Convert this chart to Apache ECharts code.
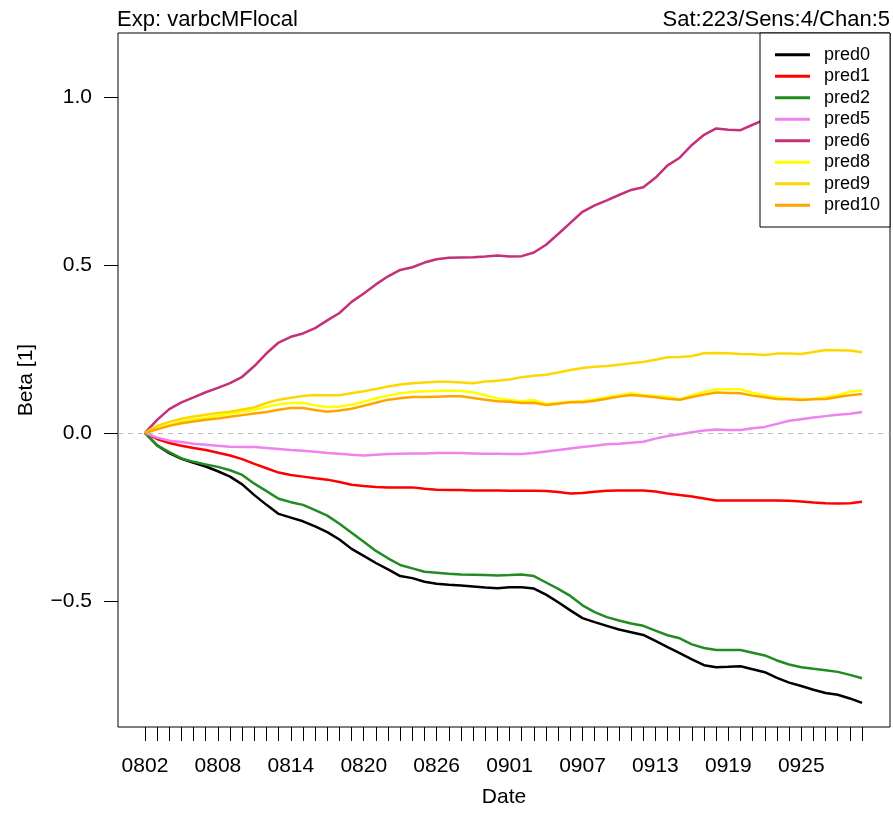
<!DOCTYPE html>
<html>
<head>
<meta charset="utf-8">
<script src="https://cdn.jsdelivr.net/npm/echarts@6/dist/echarts.min.js"></script>
<style>
html, body { margin: 0; padding: 0; background: #fff; }
#chart { width: 893px; height: 830px; }
</style>
</head>
<body>
<div id="chart"></div>
<script>
// daily dates, 0802 .. 0930
const dates = [
    '0802','0803','0804','0805','0806','0807','0808','0809','0810','0811',
    '0812','0813','0814','0815','0816','0817','0818','0819','0820','0821',
    '0822','0823','0824','0825','0826','0827','0828','0829','0830','0831',
    '0901','0902','0903','0904','0905','0906','0907','0908','0909','0910',
    '0911','0912','0913','0914','0915','0916','0917','0918','0919','0920',
    '0921','0922','0923','0924','0925','0926','0927','0928','0929','0930'
];
const xLabelIdx = [0, 6, 12, 18, 24, 30, 36, 42, 48, 54];
const yTicks = [-0.5, 0, 0.5, 1.0];

const pred0 = [0, -0.037, -0.060, -0.077, -0.089, -0.100, -0.114, -0.130, -0.153, -0.185,
    -0.214, -0.241, -0.252, -0.263, -0.278, -0.295, -0.317, -0.345, -0.366, -0.387,
    -0.406, -0.426, -0.432, -0.443, -0.449, -0.452, -0.454, -0.457, -0.460, -0.462,
    -0.459, -0.459, -0.463, -0.481, -0.504, -0.528, -0.551, -0.563, -0.574, -0.585,
    -0.593, -0.601, -0.619, -0.637, -0.655, -0.674, -0.691, -0.697, -0.696, -0.694,
    -0.703, -0.712, -0.729, -0.743, -0.753, -0.764, -0.774, -0.779, -0.790, -0.803];
const pred1 = [0, -0.018, -0.030, -0.038, -0.045, -0.051, -0.059, -0.067, -0.078, -0.092,
    -0.105, -0.118, -0.125, -0.130, -0.135, -0.139, -0.146, -0.154, -0.158, -0.161,
    -0.162, -0.162, -0.162, -0.166, -0.169, -0.170, -0.170, -0.171, -0.171, -0.171,
    -0.172, -0.172, -0.172, -0.173, -0.176, -0.180, -0.179, -0.175, -0.172, -0.171,
    -0.171, -0.171, -0.174, -0.180, -0.185, -0.189, -0.195, -0.201, -0.201, -0.201,
    -0.201, -0.201, -0.201, -0.202, -0.204, -0.207, -0.209, -0.210, -0.209, -0.205];
const pred2 = [0, -0.037, -0.057, -0.076, -0.086, -0.094, -0.101, -0.111, -0.125, -0.151,
    -0.173, -0.196, -0.206, -0.214, -0.230, -0.246, -0.270, -0.297, -0.324, -0.351,
    -0.373, -0.393, -0.403, -0.413, -0.416, -0.419, -0.421, -0.422, -0.423, -0.424,
    -0.423, -0.421, -0.426, -0.445, -0.464, -0.485, -0.513, -0.533, -0.548, -0.558,
    -0.567, -0.574, -0.588, -0.602, -0.611, -0.629, -0.640, -0.646, -0.646, -0.646,
    -0.654, -0.662, -0.677, -0.689, -0.697, -0.702, -0.706, -0.711, -0.720, -0.730];
const pred5 = [0, -0.014, -0.023, -0.027, -0.032, -0.035, -0.038, -0.041, -0.042, -0.042,
    -0.045, -0.048, -0.051, -0.053, -0.056, -0.060, -0.062, -0.065, -0.067, -0.065,
    -0.063, -0.062, -0.061, -0.061, -0.060, -0.060, -0.060, -0.061, -0.062, -0.062,
    -0.063, -0.063, -0.060, -0.055, -0.051, -0.046, -0.042, -0.038, -0.034, -0.032,
    -0.029, -0.026, -0.017, -0.009, -0.004, 0.002, 0.007, 0.010, 0.009, 0.009,
    0.014, 0.018, 0.027, 0.036, 0.041, 0.046, 0.050, 0.054, 0.057, 0.062];
const pred6 = [0, 0.039, 0.071, 0.091, 0.106, 0.121, 0.134, 0.148, 0.167, 0.199,
    0.237, 0.269, 0.286, 0.296, 0.312, 0.335, 0.357, 0.390, 0.415, 0.442,
    0.466, 0.485, 0.493, 0.507, 0.517, 0.521, 0.522, 0.523, 0.525, 0.528,
    0.525, 0.526, 0.537, 0.560, 0.592, 0.625, 0.658, 0.677, 0.692, 0.708,
    0.723, 0.731, 0.759, 0.796, 0.819, 0.857, 0.887, 0.906, 0.902, 0.901,
    0.917, 0.932, 0.940, 0.948, 0.955, 0.962, 0.970, 0.978, 0.985, 0.993];
const pred8 = [0, 0.013, 0.024, 0.034, 0.040, 0.045, 0.051, 0.057, 0.063, 0.069,
    0.078, 0.085, 0.089, 0.090, 0.082, 0.077, 0.079, 0.084, 0.093, 0.103,
    0.111, 0.118, 0.122, 0.124, 0.125, 0.126, 0.125, 0.121, 0.112, 0.103,
    0.098, 0.094, 0.098, 0.086, 0.090, 0.093, 0.095, 0.100, 0.106, 0.112,
    0.118, 0.113, 0.110, 0.108, 0.100, 0.112, 0.122, 0.130, 0.130, 0.130,
    0.119, 0.112, 0.106, 0.103, 0.101, 0.102, 0.106, 0.112, 0.123, 0.126];
const pred9 = [0, 0.021, 0.033, 0.042, 0.049, 0.054, 0.059, 0.063, 0.070, 0.076,
    0.089, 0.099, 0.105, 0.110, 0.113, 0.112, 0.112, 0.118, 0.124, 0.131,
    0.138, 0.144, 0.148, 0.150, 0.152, 0.152, 0.150, 0.148, 0.153, 0.155,
    0.159, 0.166, 0.170, 0.173, 0.180, 0.187, 0.193, 0.197, 0.199, 0.203,
    0.207, 0.211, 0.218, 0.225, 0.226, 0.229, 0.237, 0.238, 0.237, 0.235,
    0.234, 0.232, 0.236, 0.236, 0.235, 0.241, 0.247, 0.246, 0.245, 0.240];
const pred10 = [0, 0.011, 0.021, 0.029, 0.034, 0.039, 0.043, 0.048, 0.053, 0.058,
    0.062, 0.069, 0.074, 0.074, 0.068, 0.063, 0.067, 0.072, 0.081, 0.090,
    0.099, 0.103, 0.107, 0.107, 0.108, 0.109, 0.109, 0.104, 0.099, 0.094,
    0.093, 0.089, 0.090, 0.083, 0.087, 0.091, 0.091, 0.096, 0.102, 0.108,
    0.113, 0.110, 0.106, 0.102, 0.099, 0.107, 0.114, 0.120, 0.119, 0.118,
    0.111, 0.106, 0.101, 0.100, 0.098, 0.100, 0.101, 0.107, 0.112, 0.116];

const seriesNames = ['pred0', 'pred1', 'pred2', 'pred5', 'pred6', 'pred8', 'pred9', 'pred10'];
const seriesValues = [pred0, pred1, pred2, pred5, pred6, pred8, pred9, pred10];
const seriesColors = ['#000000', '#FF0000', '#228B22', '#EE82EE', '#C4317A', '#FFFF00', '#FFD700', '#FFA500'];

const font = 'Liberation Sans, Arial, Helvetica, sans-serif';

let series = seriesNames.map((name, k) => ({
    name: name,
    type: 'line',
    symbol: 'none',
    color: seriesColors[k],
    lineStyle: {width: 2.5, color: seriesColors[k]},
    data: seriesValues[k].map((v, i) => [i, v])
}));
// dashed zero line
series[0].markLine = {
    silent: true,
    symbol: 'none',
    label: {show: false},
    lineStyle: {color: '#BEBEBE', type: [5, 5], width: 1},
    data: [{yAxis: 0}]
};

let option = {
    backgroundColor: '#fff',
    animation: false,
    textStyle: {fontFamily: font},
    title: [
        {text: 'Exp: varbcMFlocal', left: 117, top: 9, padding: 0,
            textStyle: {fontFamily: font, fontSize: 22, fontWeight: 'normal', color: '#000'}},
        {text: 'Sat:223/Sens:4/Chan:5', right: 3, top: 9, padding: 0,
            textStyle: {fontFamily: font, fontSize: 22, fontWeight: 'normal', color: '#000'}}
    ],
    legend: {
        data: seriesNames,
        z: 50,
        orient: 'vertical',
        left: 760,
        top: 33,
        padding: [11, 10, 11, 15],
        icon: 'rect',
        itemWidth: 35,
        itemHeight: 3,
        itemGap: 0,
        backgroundColor: '#fff',
        borderColor: '#000',
        borderWidth: 1,
        borderRadius: 0,
        textStyle: {fontFamily: font, fontSize: 18, color: '#000', padding: [0, 0, 0, 9], lineHeight: 21.5}
    },
    grid: {
        left: 118, right: 3, top: 33, bottom: 103,
        show: true, borderColor: '#000', borderWidth: 1,
        containLabel: false
    },
    xAxis: {
        type: 'value',
        min: -2.22,
        max: 61.3,
        name: 'Date',
        nameLocation: 'middle',
        nameGap: 60,
        nameTextStyle: {fontFamily: font, fontSize: 21, color: '#000'},
        axisLine: {show: false, onZero: false},
        splitLine: {show: false},
        axisTick: {show: true, length: 14, customValues: dates.map((d, i) => i),
            lineStyle: {color: '#000', width: 1}},
        axisLabel: {customValues: xLabelIdx, margin: 29, fontFamily: font, fontSize: 21, color: '#000',
            formatter: v => dates[Math.round(v)]}
    },
    yAxis: {
        type: 'value',
        min: -0.875,
        max: 1.19,
        name: 'Beta [1]',
        nameLocation: 'middle',
        nameGap: 81,
        nameRotate: 90,
        nameTextStyle: {fontFamily: font, fontSize: 21, color: '#000'},
        axisLine: {show: false, onZero: false},
        splitLine: {show: false},
        axisTick: {show: true, length: 14, customValues: yTicks, lineStyle: {color: '#000', width: 1}},
        axisLabel: {customValues: yTicks, margin: 26, fontFamily: font, fontSize: 21, color: '#000',
            formatter: v => (v < 0 ? '\u2212' : '') + Math.abs(v).toFixed(1)}
    },
    series: series
};

let myChart = echarts.init(document.getElementById('chart'), null, {renderer: 'canvas'});
myChart.setOption(option);
</script>
</body>
</html>
